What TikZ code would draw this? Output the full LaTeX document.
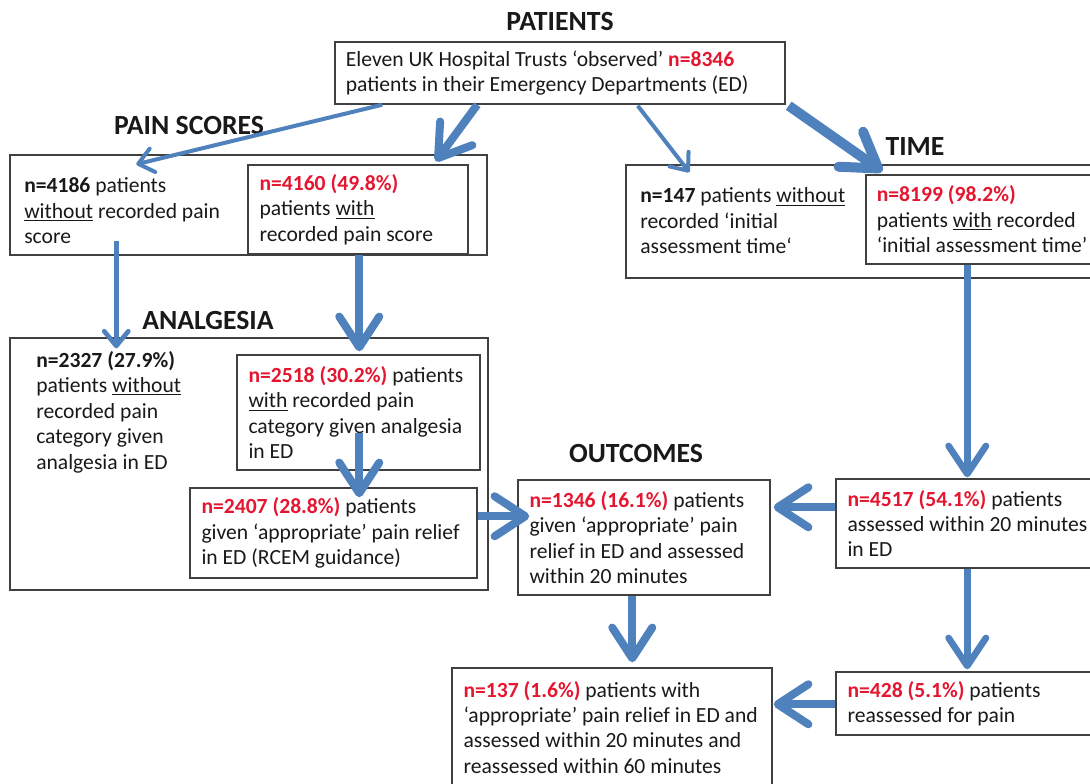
\documentclass[tikz,border=0pt]{standalone}
\usepackage{fontspec}
\setmainfont{Carlito}
\usetikzlibrary{arrows.meta,calc,fit}
\definecolor{ablue}{RGB}{79,129,189}
\definecolor{ared}{RGB}{228,22,48}
\newcommand{\rb}[1]{\textcolor{ared}{\bfseries #1}}
\begin{document}
\begin{tikzpicture}[x=0.75pt,y=-0.75pt,
  box/.style={draw=black!75, line width=1.1pt, inner sep=0pt},
  txt/.style={anchor=west, align=left, inner sep=0pt, font=\fontsize{16.2pt}{19.1pt}\selectfont, text=black!90},
  ttl/.style={font=\fontsize{20.8pt}{24pt}\selectfont\bfseries, text=black!90},
  thinarr/.style={draw=ablue, line width=3pt, -{Straight Barb[length=11pt,width=18pt,round]}},
  medarr/.style={draw=ablue, line width=5pt, -{Straight Barb[length=21pt,width=28pt,round]}},
  thickarr/.style={draw=ablue, line width=6pt, -{Straight Barb[length=23pt,width=30pt,round]}},
  heavyarr/.style={draw=ablue, line width=7.5pt, -{Straight Barb[length=25pt,width=32pt,round]}}]
\useasboundingbox (0,0) rectangle (1090,783);
\clip (0,0) rectangle (1090,783);

% boxes
\node[box, fit={(335,42) (785,104)}] (top) {};
\node[box, fit={(10,155) (487,255)}] (painouter) {};
\node[box, fit={(248,165) (468,254)}] (p4160) {};
\node[box, fit={(626,165) (1100,278)}] (timeouter) {};
\node[box, fit={(866,175) (1100,264)}] (t8199) {};
\node[box, fit={(10,338) (488,590)}] (analgouter) {};
\node[box, fit={(237,355) (480,470)}] (a2518) {};
\node[box, fit={(190,488) (477,578)}] (a2407) {};
\node[box, fit={(518,480) (770,595)}] (o1346) {};
\node[box, fit={(836,479) (1100,568)}] (o4517) {};
\node[box, fit={(836,672) (1100,735)}] (o428) {};
\node[box, fit={(452,668) (772,800)}] (o137) {};

% titles
\node[ttl] (tpat) at (560,21) {PATIENTS};
\node[ttl] (tpain) at (189,125) {PAIN SCORES};
\node[ttl] (ttime) at (915,147) {TIME};
\node[ttl] (tanalg) at (208,320) {ANALGESIA};
\node[ttl] (tout) at (636,453) {OUTCOMES};

% texts
\node[txt] (xtop) at ([xshift=8.5pt]top.west) {Eleven UK Hospital Trusts ‘observed’ \rb{n=8346}\\patients in their Emergency Departments (ED)};
\node[txt] (x4186) at (24,211) {\textbf{n=4186} patients\\\underline{without} recorded pain\\score};
\node[txt] (x4160) at ([xshift=9pt]p4160.west) {\rb{n=4160 (49.8\%)}\\patients \underline{with}\\recorded pain score};
\node[txt] (x147) at (640,221) {\textbf{n=147} patients \underline{without}\\recorded ‘initial\\assessment time‘};
\node[txt] (x8199) at ([xshift=8.5pt]t8199.west) {\rb{n=8199 (98.2\%)}\\patients \underline{with} recorded\\‘initial assessment time’};
\node[txt] (x2327) at (36,412) {\textbf{n=2327 (27.9\%)}\\patients \underline{without}\\recorded pain\\category given\\analgesia in ED};
\node[txt] (x2518) at ([xshift=9pt]a2518.west) {\rb{n=2518 (30.2\%)} patients\\\underline{with} recorded pain\\category given analgesia\\in ED};
\node[txt] (x2407) at ([xshift=9pt]a2407.west) {\rb{n=2407 (28.8\%)} patients\\given ‘appropriate’ pain relief\\in ED (RCEM guidance)};
\node[txt] (x1346) at ([xshift=9pt]o1346.west) {\rb{n=1346 (16.1\%)} patients\\given ‘appropriate’ pain\\relief in ED and assessed\\within 20 minutes};
\node[txt] (x4517) at ([xshift=9pt]$(o4517.north west)!0.5!(o4517.south west)$) {\rb{n=4517 (54.1\%)} patients\\assessed within 20 minutes\\in ED};
\node[txt] (x428) at ([xshift=9pt]$(o428.north west)!0.5!(o428.south west)$) {\rb{n=428 (5.1\%)} patients\\reassessed for pain};
\node[txt] (x137) at ($(o137.north west)+(12,60)$) {\rb{n=137 (1.6\%)} patients with\\‘appropriate’ pain relief in ED and\\assessed within 20 minutes and\\reassessed within 60 minutes};

% connectors
\draw[thinarr] ($(top.south west)+(48,0)$) -- ($(painouter.north west)+(127,10)$);
\draw[thickarr] ($(top.south west)+(143,0)$) -- ($(p4160.north east)+(-33,-3)$);
\draw[thinarr] ($(top.south east)+(-148,1)$) -- ($(timeouter.north west)+(64,8)$);
\draw[heavyarr] ($(top.south east)+(3,1)$) -- ($(t8199.north west)+(17,-3)$);
\draw[thinarr, line width=3.5pt] ($(painouter.south west)+(107,-15)$) -- ($(analgouter.north west)+(107,11)$);
\draw[thickarr] ($(p4160.south west)+(112,0)$) -- ($(a2518.north west)+(123,-3)$);
\draw[medarr] ($(t8199.south west)+(102,0)$) -- ($(o4517.north west)+(132,-1)$);
\draw[thickarr] ($(a2518.south west)+(123,-38)$) -- ($(a2407.north west)+(170,10)$);
\draw[thickarr] ($(a2407.north east)+(0,29)$) -- ($(o1346.north west)+(12,37)$);
\draw[thickarr] ($(o4517.north west)+(0,29)$) -- ($(o1346.north east)+(3,28)$);
\draw[thickarr] ($(o1346.south west)+(115,0)$) -- ($(o137.north west)+(181,-5)$);
\draw[medarr] ($(o4517.south west)+(132,0)$) -- ($(o428.north west)+(132,-2)$);
\draw[thickarr] ($(o428.north west)+(0,33)$) -- ($(o137.north east)+(1,37)$);
\end{tikzpicture}
\end{document}
